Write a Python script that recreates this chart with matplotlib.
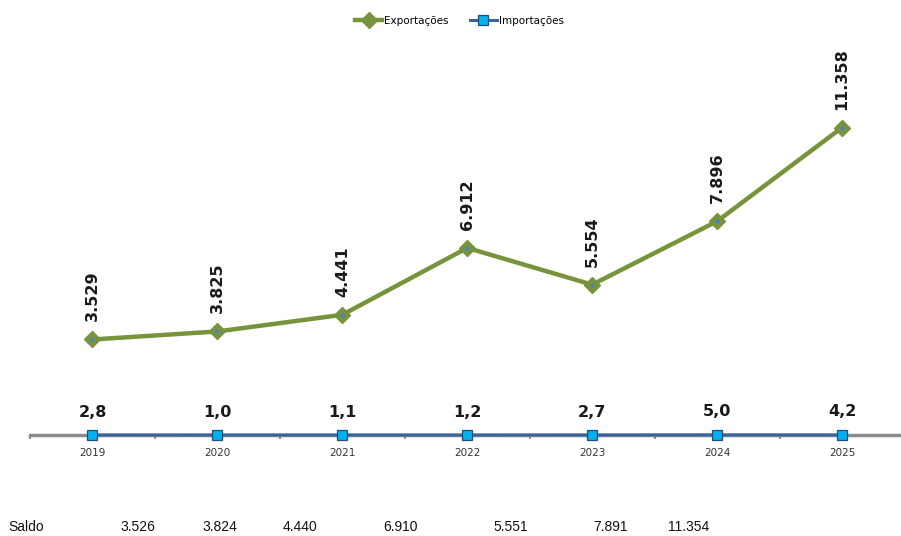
import matplotlib.pyplot as plt

years = ["2019", "2020", "2021", "2022", "2023", "2024", "2025"]
exportacoes = [3529, 3825, 4441, 6912, 5554, 7896, 11358]
importacoes = [2.8, 1.0, 1.1, 1.2, 2.7, 5.0, 4.2]
exp_labels = ["3.529", "3.825", "4.441", "6.912", "5.554", "7.896", "11.358"]
imp_labels = ["2,8", "1,0", "1,1", "1,2", "2,7", "5,0", "4,2"]
saldo = ["3.526", "3.824", "4.440", "6.910", "5.551", "7.891", "11.354"]
saldo_x = [120, 202, 283, 383, 493, 593, 668]  # left edge in pixels

GREEN = "#77933C"
BLUE = "#3A64A0"
CYAN = "#00B0F0"
GRAY = "#8C8C8C"

W, H = 901, 536
fig = plt.figure(figsize=(W / 100, H / 100), dpi=100)
# axes: x from 30 to 900 px, y=0 at 435 px, top at 29 px
ax = fig.add_axes([30 / W, 1 - 435 / H, 870 / W, 406 / H])
x = list(range(len(years)))

ax.plot(x, exportacoes, color=GREEN, lw=3.2, marker="D", ms=8,
        mfc=GREEN, mec=GREEN, label="Exportações", zorder=3)
ax.plot(x, exportacoes, ls="none", marker="o", ms=2, color="#4F81BD", zorder=4)
ax.plot(x, importacoes, color=BLUE, lw=2.2, marker="s", ms=6.5,
        mfc=CYAN, mec="#1F4E79", mew=0.9, label="Importações", zorder=5,
        clip_on=False)

for xi, v, lab in zip(x, exportacoes, exp_labels):
    ax.annotate(lab, (xi, v), xytext=(0, 13), textcoords="offset points",
                rotation=90, ha="center", va="bottom", fontsize=11.5,
                fontweight="bold", color="#1a1a1a")
for xi, v, lab in zip(x, importacoes, imp_labels):
    ax.annotate(lab, (xi, v), xytext=(0, 16.5), textcoords="offset points",
                ha="center", va="center", fontsize=11.5,
                fontweight="bold", color="#1a1a1a")

ax.set_xlim(-0.496, 6.464)
ax.set_ylim(0, 15000)
for s in ["top", "right", "left"]:
    ax.spines[s].set_visible(False)
ax.spines["bottom"].set_color(GRAY)
ax.spines["bottom"].set_linewidth(2.5)
ax.set_yticks([])
ax.set_xticks(x)
ax.set_xticklabels(years, fontsize=7.5, color="#333333")
ax.tick_params(axis="x", which="major", length=0, pad=9)
ax.set_xticks([i + 0.5 for i in range(-1, 6)], minor=True)
ax.tick_params(axis="x", which="minor", length=3, width=1.5, color=GRAY)

fig.legend(loc="center", bbox_to_anchor=(0.51, 1 - 21 / H), ncol=2,
           frameon=False, fontsize=7.5, handlelength=2.6, columnspacing=2.0,
           handletextpad=0.2)

fig.text(8 / W, 1 - 527 / H, "Saldo", fontsize=10, va="center",
         family="Liberation Sans", color="#111111")
for px, s in zip(saldo_x, saldo):
    fig.text(px / W, 1 - 527 / H, s, fontsize=10, va="center",
             family="Liberation Sans", color="#111111")

fig.savefig("out.png", dpi=100)
